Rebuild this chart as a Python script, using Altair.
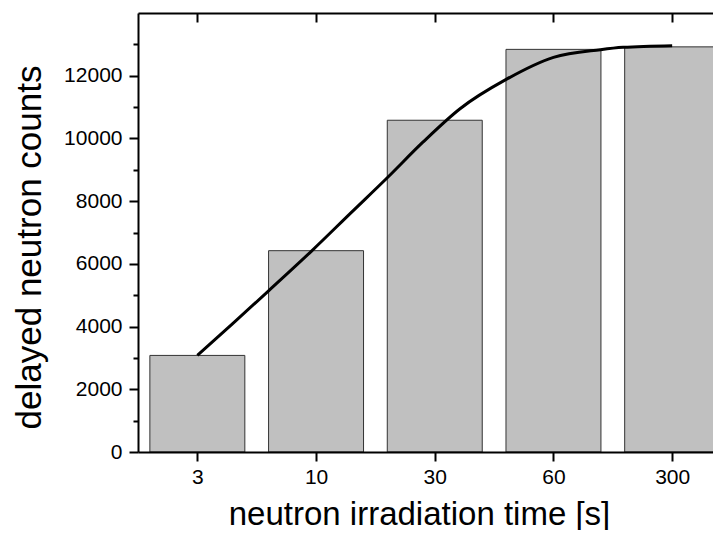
import altair as alt
import pandas as pd

# --- data ---
time_labels = ["3", "10", "30", "60", "300"]
counts = [3080, 6420, 10580, 12840, 12920]

# fitted curve (x in category-index units)
curve_x = [0.0, 0.30, 0.60, 0.964, 1.30, 1.60, 1.90, 2.213, 2.598, 3.0, 3.396, 3.587, 4.0]
curve_y = [3080, 4100, 5140, 6416, 7650, 8746, 9880, 10948, 11874, 12585, 12831, 12905, 12959]

PLOT_W, PLOT_H = 575, 439

idx = list(range(len(time_labels)))
bars = pd.DataFrame({
    "idx": idx,
    "lo": [i - 0.4 for i in idx],
    "hi": [i + 0.4 for i in idx],
    "count": counts,
    "label": time_labels,
})
curve = pd.DataFrame({"cx": curve_x, "cy": curve_y})

label_expr = "[" + ",".join(f"'{t}'" for t in time_labels) + "][datum.value]"
xscale = alt.Scale(domain=[-0.5, 4.344], nice=False, zero=False)
yscale = alt.Scale(domain=[0, 14000], nice=False, zero=True)

bar_layer = alt.Chart(bars).mark_bar(
    color="#c0c0c0", stroke="#333333", strokeWidth=1, clip=True
).encode(
    x=alt.X("lo:Q", scale=xscale, axis=alt.Axis(
        orient="bottom", values=idx, labelExpr=label_expr,
        title="neutron irradiation time [s]", titleFontSize=33,
        titleFontWeight="normal", titleX=281, titleY=72,
        titleBaseline="alphabetic", titleAlign="center",
        tickSize=9, tickWidth=2, tickColor="black",
        labelFontSize=21, labelPadding=5, labelColor="black",
        domain=True, domainColor="black", domainWidth=2,
        grid=False, zindex=1)),
    x2="hi:Q",
    y=alt.Y("count:Q", scale=yscale, axis=alt.Axis(
        orient="left", values=[0, 2000, 4000, 6000, 8000, 10000, 12000],
        format="d", title="delayed neutron counts", titleFontSize=35,
        titleFontWeight="normal", titleAngle=270, titleX=-98, titleY=234,
        titleBaseline="alphabetic", titleAlign="center",
        tickSize=9, tickWidth=2, tickColor="black",
        labelFontSize=21, labelPadding=7, labelColor="black",
        domain=True, domainColor="black", domainWidth=2,
        grid=False, zindex=1)),
    y2=alt.datum(0),
)

# curve layer: a bottom-type axis lifted to the top edge draws the top frame
# line with ticks pointing into the plot; the left axis adds minor ticks
line_layer = alt.Chart(curve).mark_line(
    color="black", strokeWidth=3, interpolate="monotone"
).encode(
    x=alt.X("cx:Q", scale=xscale, axis=alt.Axis(
        orient="bottom", offset=-PLOT_H, values=idx, labels=False, title=None,
        ticks=True, tickSize=9, tickWidth=2, tickColor="black",
        domain=True, domainColor="black", domainWidth=2,
        grid=False, zindex=2)),
    y=alt.Y("cy:Q", scale=yscale, axis=alt.Axis(
        orient="left", values=[1000, 3000, 5000, 7000, 9000, 11000, 13000],
        labels=False, title=None, tickSize=5, tickWidth=2,
        tickColor="black", domain=False, grid=False, zindex=1)),
)

chart = alt.layer(bar_layer, line_layer).resolve_axis(
    x="independent", y="independent"
).properties(
    width=PLOT_W, height=PLOT_H,
    padding={"left": 130, "top": 5, "right": 0, "bottom": 78},
    autosize=alt.AutoSizeParams(type="none"),
).configure(
    font="Liberation Sans"
).configure_view(
    stroke=None
)

chart.save("out.html", embed_options={"renderer": "svg", "actions": False})
